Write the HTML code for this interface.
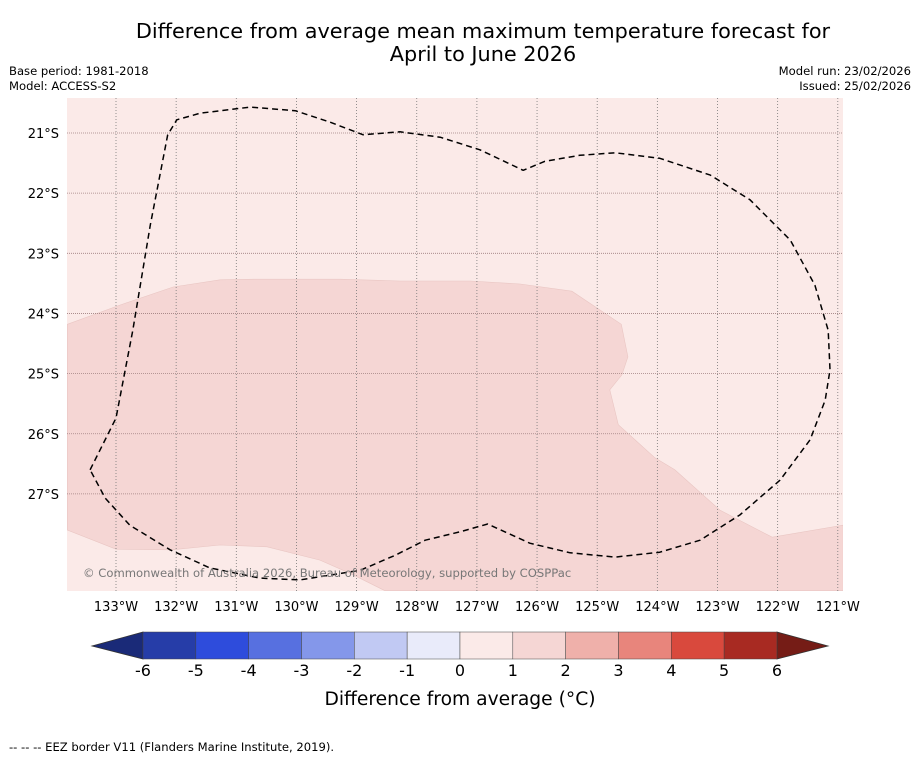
<!DOCTYPE html>
<html><head><meta charset="utf-8"><style>
body{margin:0;background:#fff;width:919px;height:758px;overflow:hidden;font-family:"DejaVu Sans","Liberation Sans",sans-serif}
</style></head><body>
<svg id="c" width="919" height="758" xmlns="http://www.w3.org/2000/svg">
<text x="483" y="38" text-anchor="middle" font-size="20.8">Difference from average mean maximum temperature forecast for</text>
<text x="483" y="61" text-anchor="middle" font-size="20.8">April to June 2026</text>
<text x="9" y="75" font-size="11.6">Base period: 1981-2018</text>
<text x="9" y="90" font-size="11.6">Model: ACCESS-S2</text>
<text x="911" y="75" font-size="11.6" text-anchor="end">Model run: 23/02/2026</text>
<text x="911" y="90" font-size="11.6" text-anchor="end">Issued: 25/02/2026</text>
<defs><clipPath id="mc"><rect x="67" y="98" width="776" height="493"/></clipPath></defs>
<g id="map" clip-path="url(#mc)"></g>
<g id="axes"></g>
<g id="cbar"></g>
<text x="460" y="705" text-anchor="middle" font-size="18.7">Difference from average (°C)</text>
<text x="9" y="751" font-size="11.6">--  --  -- EEZ border V11 (Flanders Marine Institute, 2019).</text>
</svg>
<script>
const lonTicks=[-133,-132,-131,-130,-129,-128,-127,-126,-125,-124,-123,-122,-121];
const latTicks=[-21,-22,-23,-24,-25,-26,-27];
const cbLevels=[-6,-5,-4,-3,-2,-1,0,1,2,3,4,5,6];
const cbColors=['#263da8','#2e4cdc','#5770e0','#8497ea','#c1c9f3','#e9ebfa','#fbeae8','#f5d6d4','#efb0aa','#e8857c','#d9493d','#a82a22'];
const eezLon=[-133.43,-133.00,-132.72,-132.43,-132.14,-131.99,-131.60,-130.77,-130.02,-129.44,-128.89,-128.28,-127.61,-126.95,-126.23,-125.87,-125.29,-124.70,-123.96,-123.12,-122.46,-121.79,-121.38,-121.16,-121.13,-121.21,-121.46,-121.96,-122.63,-123.29,-123.96,-124.70,-125.45,-126.12,-126.82,-127.28,-127.86,-128.36,-128.94,-129.94,-130.61,-131.44,-132.10,-132.77,-133.18,-133.43];
const eezLat=[-26.60,-25.74,-24.28,-22.53,-21.03,-20.78,-20.67,-20.57,-20.63,-20.82,-21.03,-20.98,-21.07,-21.28,-21.62,-21.47,-21.37,-21.33,-21.42,-21.70,-22.11,-22.78,-23.53,-24.28,-24.94,-25.44,-26.10,-26.77,-27.35,-27.77,-27.97,-28.05,-27.98,-27.82,-27.50,-27.63,-27.77,-28.02,-28.27,-28.43,-28.40,-28.23,-27.93,-27.52,-27.07,-26.60];
const zoneLon=[-133.81,-132.93,-132.05,-131.27,-130.69,-129.28,-128.28,-127.11,-126.28,-125.42,-124.60,-124.49,-124.59,-124.79,-124.65,-124.04,-123.71,-122.96,-122.09,-120.91,-120.91,-128.53,-129.11,-129.61,-130.49,-131.27,-132.07,-133.00,-133.81];
const zoneLat=[-24.18,-23.86,-23.56,-23.44,-23.43,-23.43,-23.46,-23.46,-23.51,-23.63,-24.18,-24.72,-25.02,-25.27,-25.85,-26.40,-26.60,-27.27,-27.72,-27.52,-28.61,-28.61,-28.32,-28.10,-27.88,-27.85,-27.93,-27.92,-27.60];
const NS='http://www.w3.org/2000/svg';
const X=lon=>116+(lon+133)*60.15;
const Y=lat=>133+(-21-lat)*60.15;
const CX=v=>143+(v+6)*52.83;
function mk(t,a,p){const e=document.createElementNS(NS,t);for(const k in a)e.setAttribute(k,a[k]);p.appendChild(e);return e;}
const map=document.getElementById('map'),ax=document.getElementById('axes'),cb=document.getElementById('cbar');
let bg=mk('rect',{x:67,y:98,width:776,height:493,fill:'#fbeae8'},map);


let zp=mk('path',{d:'M'+zoneLon.map((l,i)=>X(l).toFixed(1)+','+Y(zoneLat[i]).toFixed(1)).join('L')+'Z',fill:'#f5d6d4',stroke:'#e9c6c3','stroke-width':0.6},map);


lonTicks.forEach(l=>{let g=mk('line',{x1:X(l),x2:X(l),y1:98,y2:591,stroke:'#777','stroke-width':0.8,'stroke-dasharray':'1,2'},map);


let t=mk('text',{x:X(l),y:611,'text-anchor':'middle','font-size':13},ax);t.textContent=Math.abs(l)+'°W';

});
latTicks.forEach(l=>{let g=mk('line',{x1:67,x2:843,y1:Y(l),y2:Y(l),stroke:'#a08080','stroke-width':0.8,'stroke-dasharray':'1,1'},map);


let t=mk('text',{x:59,y:Y(l)+5,'text-anchor':'end','font-size':13},ax);t.textContent=Math.abs(l)+'°S';

});
let ez=mk('path',{d:'M'+eezLon.map((l,i)=>X(l).toFixed(1)+','+Y(eezLat[i]).toFixed(1)).join('L'),fill:'none',stroke:'#000','stroke-width':1.5,'stroke-dasharray':'6,4','stroke-linejoin':'round'},map);


let cr=mk('text',{x:83,y:577,'font-size':11.6,fill:'#777'},map);cr.textContent='© Commonwealth of Australia 2026, Bureau of Meteorology, supported by COSPPac';


let lt=mk('polygon',{points:`${CX(-6)},632 92,646 ${CX(-6)},659`,fill:'#1a2a78',stroke:'#333','stroke-width':0.8},cb);


let rt=mk('polygon',{points:`${CX(6)},632 828,646 ${CX(6)},659`,fill:'#751c16',stroke:'#333','stroke-width':0.8},cb);


cbColors.forEach((c,i)=>{let r=mk('rect',{x:CX(cbLevels[i]),y:632,width:CX(cbLevels[i+1])-CX(cbLevels[i]),height:27,fill:c,stroke:'#444','stroke-width':0.5},cb);

});
cbLevels.forEach(v=>{let t=mk('text',{x:CX(v),y:676,'text-anchor':'middle','font-size':16},cb);t.textContent=v;

});
</script>
</body></html>
